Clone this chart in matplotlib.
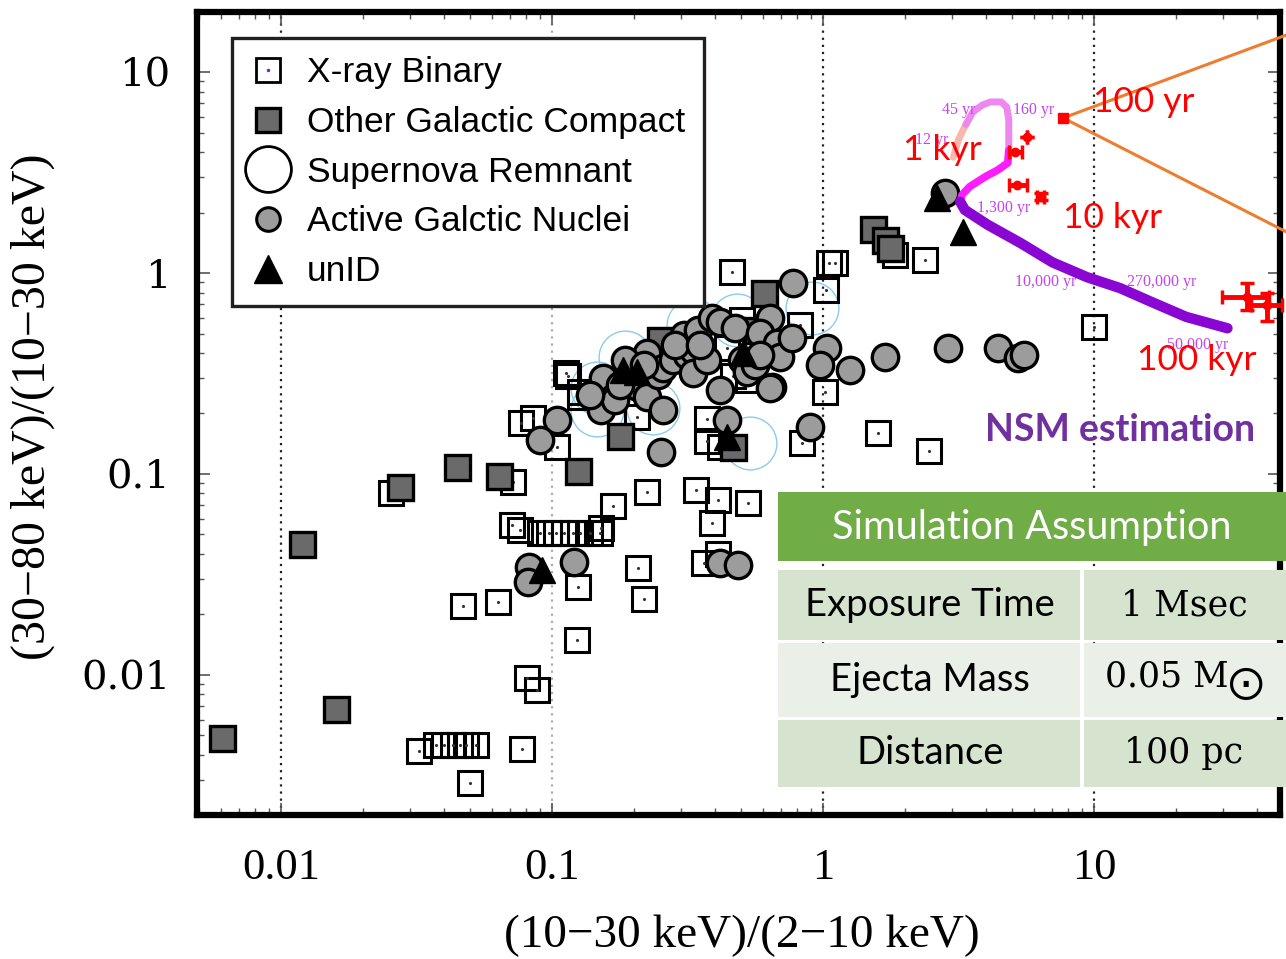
import matplotlib
matplotlib.use("Agg")
import matplotlib.pyplot as plt
from matplotlib.lines import Line2D
from matplotlib.patches import Rectangle
from matplotlib.ticker import FixedLocator, FixedFormatter, LogLocator, NullFormatter

# ---------------- data (ratios) ----------------
xrb_points = [
    (0.46, 1.01), (1.05, 1.12), (1.11, 1.12), (2.38, 1.16), (10.0, 0.54), (1.03, 0.82),
    (0.82, 0.55), (1.02, 0.257), (0.84, 0.142), (1.59, 0.16), (2.47, 0.13), (1.85, 1.23),
    (0.115, 0.306), (0.127, 0.257), (0.077, 0.18), (0.085, 0.19), (0.104, 0.137),
    (0.072, 0.091), (0.0255, 0.080), (0.225, 0.081), (0.168, 0.069), (0.34, 0.083),
    (0.41, 0.074), (0.53, 0.072), (0.39, 0.057), (0.071, 0.0555), (0.076, 0.0525),
    (0.090, 0.0507), (0.0975, 0.0507), (0.1035, 0.0507), (0.111, 0.0507), (0.120, 0.0507),
    (0.127, 0.0507), (0.138, 0.0507), (0.150, 0.0507), (0.152, 0.054), (0.207, 0.034),
    (0.41, 0.040), (0.365, 0.036), (0.063, 0.0232), (0.047, 0.022), (0.125, 0.0275),
    (0.219, 0.024), (0.124, 0.0149), (0.081, 0.0097), (0.088, 0.0084), (0.0324, 0.0042),
    (0.0374, 0.00446), (0.0401, 0.00446), (0.0430, 0.00446), (0.0457, 0.00446),
    (0.0480, 0.00446), (0.0526, 0.00446), (0.0775, 0.0043), (0.0497, 0.0029),
    (0.1125, 0.318), (0.255, 0.462), (0.501, 0.582), (0.444, 0.422), (0.464, 0.306),
    (0.527, 0.294), (0.372, 0.187), (0.372, 0.146), (0.417, 0.137), (0.206, 0.193),
    (0.127, 0.242),
]
ogc_points = [
    (0.00605, 0.00484), (0.012, 0.0446), (0.0159, 0.0068), (0.0276, 0.086), (0.0445, 0.108),
    (0.0637, 0.098), (0.125, 0.104), (0.178, 0.154), (0.605, 0.80), (1.53, 1.66),
    (1.70, 1.46), (1.77, 1.33), (0.464, 0.137), (0.570, 0.520), (0.25, 0.464),
]
snr_points = [
    (0.147, 0.267), (0.186, 0.382), (0.331, 0.551), (0.482, 0.584), (0.911, 0.670),
    (0.236, 0.213), (0.537, 0.142), (0.147, 0.208),
]
agn_points = [
    (2.83, 2.51), (1.70, 0.38), (2.90, 0.426), (4.44, 0.426), (5.23, 0.376), (5.5, 0.389),
    (1.259, 0.331), (1.034, 0.426), (0.975, 0.348), (0.896, 0.171), (0.775, 0.891),
    (0.637, 0.597), (0.683, 0.390), (0.648, 0.272), (0.417, 0.262), (0.444, 0.186),
    (0.253, 0.129), (0.104, 0.186), (0.090, 0.148), (0.0826, 0.0344), (0.0813, 0.029),
    (0.121, 0.0366), (0.417, 0.0359), (0.486, 0.0351),
    (0.154, 0.300), (0.168, 0.239), (0.152, 0.208), (0.171, 0.234), (0.198, 0.303),
    (0.207, 0.270), (0.225, 0.398), (0.225, 0.242), (0.247, 0.311), (0.257, 0.337),
    (0.257, 0.208), (0.279, 0.369), (0.308, 0.491), (0.314, 0.390), (0.331, 0.413),
    (0.331, 0.319), (0.346, 0.520), (0.372, 0.369), (0.389, 0.597), (0.417, 0.570),
    (0.473, 0.533), (0.501, 0.369), (0.524, 0.322), (0.561, 0.348), (0.585, 0.501),
    (0.676, 0.449), (0.694, 0.382), (0.769, 0.475), (0.637, 0.268), (0.186, 0.369),
    (0.138, 0.247), (0.178, 0.277), (0.219, 0.348), (0.285, 0.438), (0.352, 0.438),
    (0.585, 0.390),
]
unid_points = [
    (2.64, 2.37), (3.30, 1.60), (0.183, 0.329), (0.507, 0.398), (0.444, 0.153),
    (0.0922, 0.0334), (0.206, 0.322),
]

# NSM evolutionary track (segments by age)
trk_12_45_x = [3.03, 3.16, 3.37]
trk_12_45_y = [3.77, 4.60, 5.49]
trk_45_160_x = [3.37, 3.57, 3.87, 4.15, 4.55, 4.77, 4.85, 4.85, 4.85]
trk_45_160_y = [5.49, 6.31, 6.85, 7.10, 7.10, 6.68, 5.79, 4.84, 4.07]
trk_160_1300_x = [4.85, 4.81, 4.39, 3.98, 3.48, 3.26, 3.21]
trk_160_1300_y = [4.07, 3.53, 3.24, 3.02, 2.69, 2.45, 2.26]
trk_1300_50k_x = [3.21, 3.34, 4.05, 5.36, 7.03, 9.42, 12.5, 16.5, 21.9, 31.1]
trk_1300_50k_y = [2.26, 2.06, 1.74, 1.41, 1.13, 0.954, 0.841, 0.713, 0.605, 0.531]
age_labels = ["12 yr", "45 yr", "160 yr", "1,300 yr", "10,000 yr", "270,000 yr", "50,000 yr"]
age_label_x = [2.18, 2.75, 5.02, 3.70, 5.11, 13.2, 18.6]
age_label_y = [4.6, 6.45, 6.45, 2.10, 0.902, 0.902, 0.438]

# simulated NSM points (red)
sim100_x, sim100_y = 7.70, 5.91
sim_x = [5.11, 5.65, 5.2, 6.36, 36.6, 43.4]
sim_y = [4.02, 4.73, 2.73, 2.40, 0.758, 0.690]
sim_xerr_lo = [0.26, 0.0, 0.35, 0.2, 6.9, 5.4]
sim_xerr_hi = [0.32, 0.0, 0.45, 0.2, 7.7, 6.0]
sim_yerr_lo = [0.0, 0.0, 0.0, 0.1, 0.104, 0.113]
sim_yerr_hi = [0.0, 0.0, 0.0, 0.1, 0.133, 0.11]
zoom_line_end_x = [51.4, 51.4]
zoom_line_end_y = [15.3, 1.60]

age_texts = ["100 yr", "1 kyr", "10 kyr", "100 kyr"]
age_text_x = [9.93, 1.97, 7.70, 14.4]
age_text_y = [7.1, 4.09, 1.88, 0.369]

legend_labels = ["X-ray Binary", "Other Galactic Compact", "Supernova Remnant",
                 "Active Galctic Nuclei", "unID"]
xticks = [0.01, 0.1, 1, 10]
yticks = [0.01, 0.1, 1, 10]
tick_labels = ["0.01", "0.1", "1", "10"]

table_title = "Simulation Assumption"
table_rows = [("Exposure Time", "1 Msec"), ("Ejecta Mass", r"0.05 M$_{\bigodot}$"),
              ("Distance", "100 pc")]

# ---------------- figure ----------------
W, H = 1286, 959
fig = plt.figure(figsize=(W / 100, H / 100), dpi=100)
ax = fig.add_axes([197 / W, 1 - 815 / H, (1280 - 197) / W, (815 - 12) / H])
ax.set_xscale("log")
ax.set_yscale("log")
ax.set_xlim(0.0049, 48.6)
ax.set_ylim(0.00201, 19.9)

def unzip(p):
    return [a for a, b in p], [b for a, b in p]

# gridlines
for gx, col in zip(xticks, ["#222222", "#aaaaaa", "#222222", "#222222"]):
    ax.axvline(gx, color=col, ls=(0, (1, 2.2)), lw=1.6, zorder=0.5)

x, y = unzip(snr_points)
ax.plot(x, y, ls="none", marker="o", ms=38, mfc="none", mec="#8ccbea", mew=1.0, zorder=1)
x, y = unzip(xrb_points)
ax.plot(x, y, ls="none", marker="s", ms=17, mfc="none", mec="black", mew=2.2, zorder=2)
ax.plot(x, y, ls="none", marker=".", ms=2.5, color="#333333", zorder=2)
x, y = unzip(ogc_points)
ax.plot(x, y, ls="none", marker="s", ms=18, mfc="#6a6a6a", mec="black", mew=2.4, zorder=3)
x, y = unzip(agn_points)
ax.plot(x, y, ls="none", marker="o", ms=19, mfc="#9c9c9c", mec="black", mew=2.4, zorder=4)
x, y = unzip(unid_points)
ax.plot(x, y, ls="none", marker="^", ms=19, color="black", zorder=5)

# NSM track
ax.plot(trk_12_45_x, trk_12_45_y, color="#f8b8b0", lw=5, solid_capstyle="round", zorder=6)
ax.plot(trk_45_160_x, trk_45_160_y, color="#ee88ee", lw=5, solid_capstyle="round", zorder=6)
ax.plot(trk_160_1300_x, trk_160_1300_y, color="#ff1cff", lw=5.5, solid_capstyle="round", zorder=6)
ax.plot(trk_1300_50k_x, trk_1300_50k_y, color="#8a06d2", lw=7.5, solid_capstyle="round", zorder=6)
for t, tx, ty in zip(age_labels, age_label_x, age_label_y):
    ax.text(tx, ty, t, fontsize=11.5, family="Liberation Serif", color="#c444ee",
            ha="left", va="center", zorder=6)

# zoom lines (orange)
for ex, ey in zip(zoom_line_end_x, zoom_line_end_y):
    ax.plot([sim100_x, ex], [sim100_y, ey], color="#ed7d31", lw=2.2, clip_on=False, zorder=7)
ax.plot([sim100_x], [sim100_y], ls="none", marker="s", ms=7, color="red", zorder=8)

eb = ax.errorbar(sim_x, sim_y, xerr=[sim_xerr_lo, sim_xerr_hi], yerr=[sim_yerr_lo, sim_yerr_hi],
                 fmt="o", ms=6, color="red", ecolor="red", elinewidth=3.5, capsize=5,
                 capthick=2.5, zorder=8)
for grp in eb.lines:
    if grp is None:
        continue
    items = grp if isinstance(grp, tuple) else (grp,)
    for it in items:
        it.set_clip_on(False)

for t, tx, ty in zip(age_texts, age_text_x, age_text_y):
    ax.text(tx, ty, t, fontsize=25.5, family="Lato", color="red", ha="left", va="center", zorder=9)
ax.text(3.98, 0.165, "NSM estimation", fontsize=27, family="Lato", weight="bold",
        color="#7030a0", ha="left", va="center", zorder=9)

# axes style
for sp in ax.spines.values():
    sp.set_linewidth(4.5)
ax.xaxis.set_major_locator(FixedLocator(xticks))
ax.xaxis.set_major_formatter(FixedFormatter(tick_labels))
ax.yaxis.set_major_locator(FixedLocator(yticks))
ax.yaxis.set_major_formatter(FixedFormatter(tick_labels))
ax.xaxis.set_minor_locator(LogLocator(base=10, subs=range(2, 10), numticks=20))
ax.yaxis.set_minor_locator(LogLocator(base=10, subs=range(2, 10), numticks=20))
ax.xaxis.set_minor_formatter(NullFormatter())
ax.yaxis.set_minor_formatter(NullFormatter())
ax.tick_params(which="both", direction="in", top=True, right=True, color="#555555")
ax.tick_params(which="major", length=9, width=1.2)
ax.tick_params(which="minor", length=5, width=1.0)
ax.tick_params(axis="x", which="major", pad=24)
ax.tick_params(axis="y", which="major", pad=19)
for lab in ax.get_xticklabels():
    lab.set_family("Liberation Serif")
    lab.set_fontsize(32)
for lab in ax.get_yticklabels():
    lab.set_family("DejaVu Serif")
    lab.set_fontsize(29)

ax.set_xlabel("(10\u221230 keV)/(2\u221210 keV)", family="Liberation Serif", fontsize=34)
ax.xaxis.set_label_coords((742 - 197) / 1083, (815 - 936) / 803)
ax.xaxis.label.set_va("center")
ax.set_ylabel("(30\u221280 keV)/(10\u221230 keV)", family="Liberation Serif", fontsize=34.5)
ax.yaxis.set_label_coords((33 - 197) / 1083, (815 - 407) / 803)
ax.yaxis.label.set_va("center")

# legend
h_xrb = (Line2D([], [], ls="none", marker="s", ms=17, mfc="white", mec="black", mew=2),
         Line2D([], [], ls="none", marker=".", ms=3, color="#7030a0"))
h_ogc = Line2D([], [], ls="none", marker="s", ms=17, mfc="#6a6a6a", mec="black", mew=2.4)
h_snr = Line2D([], [], ls="none", marker="o", ms=33, mfc="white", mec="black", mew=2)
h_agn = Line2D([], [], ls="none", marker="o", ms=17, mfc="#9c9c9c", mec="black", mew=2.2)
h_unid = Line2D([], [], ls="none", marker="^", ms=20, color="black")
leg = ax.legend([h_xrb, h_ogc, h_snr, h_agn, h_unid], legend_labels,
                loc="upper left", bbox_to_anchor=(232 / W, 1 - 38 / H),
                bbox_transform=fig.transFigure, borderaxespad=0, fancybox=False,
                framealpha=1, edgecolor="#231f20", borderpad=0.52, labelspacing=0.47,
                handlelength=1.0, handletextpad=0.6,
                prop={"family": "Liberation Sans", "size": 25.5})
leg.get_frame().set_linewidth(2.4)
leg.set_zorder(10)

# table (figure overlay)
def fig_rect(x0, y0, x1, y1, color):
    fig.add_artist(Rectangle((x0 / W, 1 - y1 / H), (x1 - x0) / W, (y1 - y0) / H,
                             transform=fig.transFigure, facecolor=color, edgecolor="none",
                             zorder=20))

fig_rect(778, 492, 1286, 561, "#70ad47")
fig.text((778 + 1286) / 2 / W, 1 - 527 / H, table_title, color="white", fontsize=28.5,
         family="Lato", ha="center", va="center", zorder=21)
row_bounds = [(570, 640), (643, 717), (720, 787)]
row_colors = ["#d5e3cf", "#eaf0e7", "#d5e3cf"]
for (a, b), (y0, y1), col in zip(table_rows, row_bounds, row_colors):
    fig_rect(778, y0, 1080, y1, col)
    fig_rect(1084, y0, 1286, y1, col)
    yc = 1 - (y0 + y1) / 2 / H
    fig.text(930 / W, yc, a, fontsize=27.5, family="Lato", color="black",
             ha="center", va="center", zorder=21)
    fig.text(1184 / W, yc, b, fontsize=25, family="DejaVu Serif", color="black",
             ha="center", va="center", zorder=21)

fig.savefig("out.png", dpi=100)
